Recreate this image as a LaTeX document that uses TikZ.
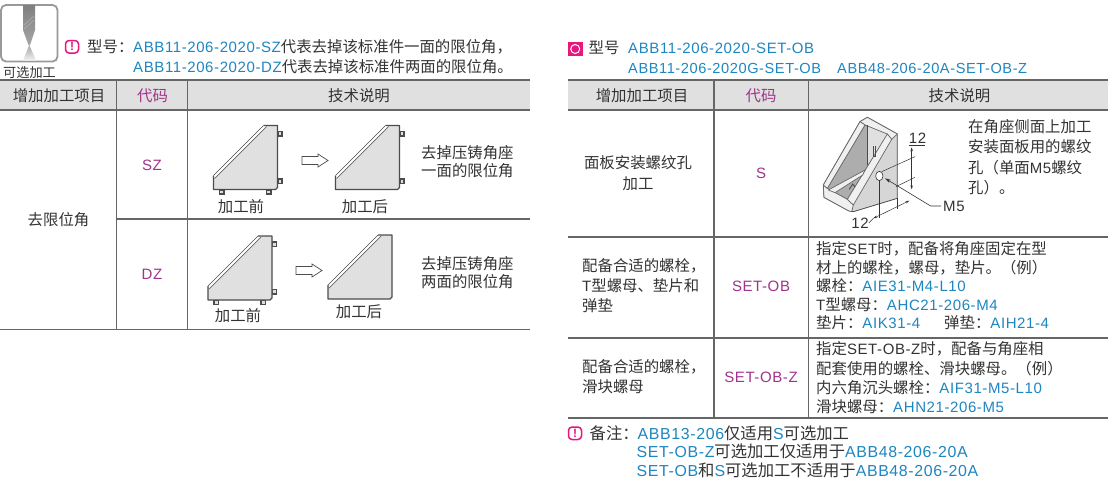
\documentclass[tikz,border=0pt]{standalone}
\usepackage{fontspec}
\usetikzlibrary{arrows.meta}
\setmainfont[LetterSpace=4]{Liberation Sans}
\newfontfamily\cjk[Scale=1.027]{Noto Sans CJK SC}
\definecolor{tblue}{HTML}{1E86C0}
\definecolor{tpur}{HTML}{A0338C}
\definecolor{ttext}{HTML}{333333}
\definecolor{hdr}{HTML}{E0E0E0}
\definecolor{rul}{HTML}{666666}
\definecolor{pinkc}{HTML}{E6177F}
\newcommand{\cn}[1]{{\cjk #1}}
\newcommand{\bl}[1]{\textcolor{tblue}{#1}}
\tikzset{
 x=1pt,y=-1pt,
 txt/.style={anchor=west,inner sep=0pt,font=\fontsize{15}{15}\selectfont,text=ttext},
 notetxt/.style={txt,font=\fontsize{15.9}{16}\selectfont},
 headtxt/.style={txt,font=\fontsize{14.6}{15}\selectfont},
 ctr/.style={anchor=center,inner sep=0pt,font=\fontsize{15}{15}\selectfont,text=ttext,align=center},
 code/.style={ctr,text=tpur},
 rule/.style={draw=rul,line width=1.1pt},
 lug/.style={fill=hdr,draw=black!70,line width=1.1pt},
 dimn/.style={black!80,line width=.5pt},
 dimarrow/.style={dimn,{Stealth[length=4pt,width=2.5pt]}-{Stealth[length=4pt,width=2.5pt]}},
 facet/.style={fill=black!6,draw=black!60,line width=.7pt,line join=round},
 warnbox/.style={pinkc,line width=1.5pt,rounded corners=3.5pt,fill=white},
 warnmark/.style={font=\bfseries\fontsize{12}{12}\selectfont,text=pinkc,inner sep=0pt},
}
\newcommand{\plate}[3]{% x,y,lugs: 0 none 1 right 2 both
\begin{scope}[shift={(#1,#2)}]
 \ifnum#3>0 \draw[lug] (64.5,6) rectangle (68.5,10.5); \draw[lug] (64.5,53.5) rectangle (68.5,58);\fi
 \ifnum#3>1 \draw[lug] (6,64.5) rectangle (10.5,68.5); \draw[lug] (53,64.5) rectangle (57.5,68.5);\fi
 \fill[hdr] (0,50) -- (50,0) -- (64,0) -- (64,62) -- (62,64) -- (0,64) -- cycle;
 \fill[white] (0,50) -- (50,0) -- (53,1) -- (1,53) -- cycle;
 \draw[black!70,line width=.6pt] (0,50) -- (50,0);
 \draw[black!60,line width=.7pt] (1,53) -- (53,1);
 \draw[black!70,line width=1.2pt,line join=round] (50,0) -- (64,0) -- (64,62) -- (62,64) -- (0,64) -- (0,50);
\end{scope}}
\newcommand{\arr}[2]{\draw[draw=black!70,fill=white,line width=.7pt] (#1,#2) ++(0,-4) -- ++(16,0) -- ++(0,-2.5) -- ++(10,6.5) -- ++(-10,6.5) -- ++(0,-2.5) -- ++(-16,0) -- cycle;}
\begin{document}
\begin{tikzpicture}
\useasboundingbox (0,0) rectangle (1110,490);
\fill[white] (0,0) rectangle (1110,490);
% icon
\draw[draw=black!40,fill=white,line width=1.8pt,rounded corners=5pt] (1,5) rectangle (57.5,61.5);
\shade[top color=black!50,bottom color=black!35] (23,5) -- (35,5) -- (35,30) -- (30,45) -- (28.5,45) -- (23,30) -- cycle;
\draw[white!70!black,line width=.5pt] (24,25) -- (34,16);
\draw[white!70!black,line width=.5pt] (24,29) -- (34,20);
\shade[top color=black!35,bottom color=black!5] (29.3,45) -- (36,60.5) -- (23,60.5) -- cycle;
\node[ctr,font=\fontsize{12.8}{13}\selectfont] (iconlab) at (29.5,73) {\cn{可选加工}};
% left notes
\draw[warnbox] (65.5,40.5) rectangle (78.5,53);
\node[warnmark] (excl1) at (72,46.7) {!};
\node[txt] (n1) at (87,47) {\cn{型号：}};
\node[txt] (n2) at (133,47) {\bl{ABB11-206-2020-SZ}\cn{代表去掉该标准件一面的限位角，}};
\node[txt] (n3) at (133,67) {\bl{ABB11-206-2020-DZ}\cn{代表去掉该标准件两面的限位角。}};
% left table
\fill[hdr] (0,80) rectangle (530,110);
\draw[rule] (0,80) -- (530,80);
\draw[rule] (0,110) -- (530,110);
\draw[rule] (116.5,219) -- (530,219);
\draw[rule] (0,329.5) -- (530,329.5);
\draw[rule] (116.5,80) -- (116.5,329.5);
\draw[rule] (187.5,80) -- (187.5,329.5);
\node[ctr] (h1) at (59,96) {\cn{增加加工项目}};
\node[code] (h2) at (152.5,96) {\cn{代码}};
\node[ctr] (h3) at (359,96) {\cn{技术说明}};
\node[ctr] (qu) at (58.5,220) {\cn{去限位角}};
\node[code] (sz) at (152,165) {SZ};
\node[code] (dz) at (152,274) {DZ};
\plate{213.5}{125.5}{2}
\plate{335.5}{125.5}{1}
\plate{208}{236}{2}
\plate{328}{235}{0}
\arr{302}{160.5}
\arr{296}{270.5}
\node[ctr] (a1) at (241,207) {\cn{加工前}};
\node[ctr] (b1) at (365,207) {\cn{加工后}};
\node[ctr] (a2) at (238,316) {\cn{加工前}};
\node[ctr] (b2) at (359,312) {\cn{加工后}};
\node[txt,align=left,font=\fontsize{15}{18}\selectfont] (d1) at (421,162) {\cn{去掉压铸角座}\\\cn{一面的限位角}};
\node[txt,align=left,font=\fontsize{15}{18}\selectfont] (d2) at (421,273) {\cn{去掉压铸角座}\\\cn{两面的限位角}};
% right head
\fill[pinkc] (568,42) rectangle (582.5,56);
\draw[white,line width=1pt] (575.2,49) circle (4.5);
\node[txt] (r0) at (588.5,48) {\cn{型号}};
\node[txt] (r1) at (628,48) {\bl{ABB11-206-2020-SET-OB}};
\node[headtxt] (r2) at (628,68) {\bl{ABB11-206-2020G-SET-OB}};
\node[headtxt] (r3) at (837,68) {\bl{ABB48-206-20A-SET-OB-Z}};
% right table
\fill[hdr] (568,80) rectangle (1108,110);
\draw[rule] (568,80) -- (1108,80);
\draw[rule] (568,110) -- (1108,110);
\draw[rule] (568,237) -- (1108,237);
\draw[rule] (568,338) -- (1108,338);
\draw[rule] (568,418) -- (1108,418);
\draw[rule] (714,80) -- (714,418);
\draw[rule] (808.5,80) -- (808.5,418);
\node[ctr] (rh1) at (642,96) {\cn{增加加工项目}};
\node[code] (rh2) at (761,96) {\cn{代码}};
\node[ctr] (rh3) at (959.5,96) {\cn{技术说明}};
\node[ctr,font=\fontsize{15}{21}\selectfont] (c1) at (638,173.5) {\cn{面板安装螺纹孔}\\\cn{加工}};
\node[code] (s) at (761,173) {S};
\node[txt,align=left,font=\fontsize{15}{20}\selectfont] (c2) at (582,286) {\cn{配备合适的螺栓，}\\T\cn{型螺母、垫片和}\\\cn{弹垫}};
\node[code] (so) at (761,286) {SET-OB};
\node[txt,align=left,font=\fontsize{15}{20}\selectfont] (c3) at (582,377) {\cn{配备合适的螺栓，}\\\cn{滑块螺母}};
\node[code] (soz) at (761,377) {SET-OB-Z};
\node[txt,align=left,font=\fontsize{15}{20.5}\selectfont] (t1) at (968,157) {\cn{在角座侧面上加工}\\\cn{安装面板用的螺纹}\\\cn{孔（单面}M5\cn{螺纹}\\\cn{孔）。}};
\node[txt,align=left,font=\fontsize{15}{18.5}\selectfont] (t2) at (816,286) {\cn{指定}SET\cn{时，配备将角座固定在型}\\\cn{材上的螺栓，螺母，垫片。（例）}\\\cn{螺栓：}\bl{AIE31-M4-L10}\\T\cn{型螺母：}\bl{AHC21-206-M4}\\\cn{垫片：}\bl{AIK31-4}\hspace{24pt}\cn{弹垫：}\bl{AIH21-4}};
\node[txt,align=left,font=\fontsize{15}{19.3}\selectfont] (t3) at (816,378) {\cn{指定}SET-OB-Z\cn{时，配备与角座相}\\\cn{配套使用的螺栓、滑块螺母。（例）}\\\cn{内六角沉头螺栓：}\bl{AIF31-M5-L10}\\\cn{滑块螺母：}\bl{AHN21-206-M5}};
% bracket: drawn in zoomed-crop coordinates
\begin{scope}[shift={(810,110)},scale=1/3]
 \path[fill=black!16,draw=black!70,line width=.8pt,line join=round] (40,225) -- (150,35) -- (172,22) -- (262,72) -- (262,265) -- (130,305) -- (115,302) -- (42,262) -- cycle;
 \path[fill=black!32,draw=black!60,line width=.5pt] (165,45) -- (232,72) -- (112,268) -- (52,235) -- cycle;
 \path[fill=black!12] (172,45) -- (232,72) -- (190,140) -- (172,165) -- cycle;
 \path[facet] (150,35) -- (172,22) -- (262,72) -- (245,88) -- (232,72) -- (165,45) -- cycle;
 \path[facet] (40,225) -- (52,235) -- (112,268) -- (130,285) -- (125,305) -- (115,302) -- (42,262) -- cycle;
 \path[facet] (150,35) -- (165,45) -- (52,235) -- (40,225) -- cycle;
 \path[facet] (232,72) -- (245,88) -- (130,285) -- (112,268) -- cycle;
 \path[facet] (55,240) -- (165,180) -- (158,195) -- (75,248) -- cycle;
 \draw[black!70,line width=.7pt] (172,45) -- (172,165);
 \draw[black!70,line width=.9pt] (190,108) -- (190,140) -- (197,140) -- (197,108);
 \draw[black!70,line width=.9pt] (118,238) -- (128,222) -- (135,230);
 \draw[fill=white,draw=black!80,line width=.6pt] (208,198) ellipse (11 and 14);
 \coordinate (hole) at (225,205);
 \coordinate (m5c) at (362,288);
 \coordinate (e1a) at (215,185); \coordinate (e1b) at (315,140);
 \coordinate (e2a) at (258,230); \coordinate (e2b) at (315,202);
 \coordinate (v1a) at (305,112); \coordinate (v1b) at (305,238);
 \coordinate (u1a) at (298,105); \coordinate (u1b) at (345,105);
 \coordinate (e3a) at (208,212); \coordinate (e3b) at (208,325);
 \coordinate (e4a) at (262,265); \coordinate (e4b) at (262,298);
 \coordinate (w1a) at (190,325); \coordinate (w1b) at (298,272);
\end{scope}
\node[txt] (m5) at (943,206) {M5};
\draw[black!80,line width=.6pt,-{Stealth[length=6pt,width=3.5pt]},shorten <=2pt] (m5.west) -- (m5c) -- (hole);
\draw[dimn] (e1a) -- (e1b);
\draw[dimn] (e2a) -- (e2b);
\draw[dimarrow] (v1a) -- (v1b);
\draw[black!80,line width=.6pt] (u1a) -- (u1b);
\node[ctr] (d12a) at (917.5,138) {12};
\draw[dimn] (e3a) -- (e3b);
\draw[dimn] (e4a) -- (e4b);
\draw[dimarrow] (w1a) -- (w1b);
\node[ctr] (d12b) at (860,223) {12};
\draw[dimn] (d12b.east) -- (w1a);
% note
\draw[warnbox] (568.5,427) rectangle (581.5,439.5);
\node[warnmark] (excl2) at (575,433.2) {!};
\node[notetxt] (nn) at (589.5,433) {\cn{备注：}};
\node[notetxt] (nn1) at (637.5,433) {\bl{ABB13-206}\cn{仅适用}\bl{S}\cn{可选加工}};
\node[notetxt] (nn2) at (636.5,451.5) {\bl{SET-OB-Z}\cn{可选加工仅适用于}\bl{ABB48-206-20A}};
\node[notetxt] (nn3) at (636.5,470.5) {\bl{SET-OB}\cn{和}\bl{S}\cn{可选加工不适用于}\bl{ABB48-206-20A}};
\end{tikzpicture}
\end{document}
